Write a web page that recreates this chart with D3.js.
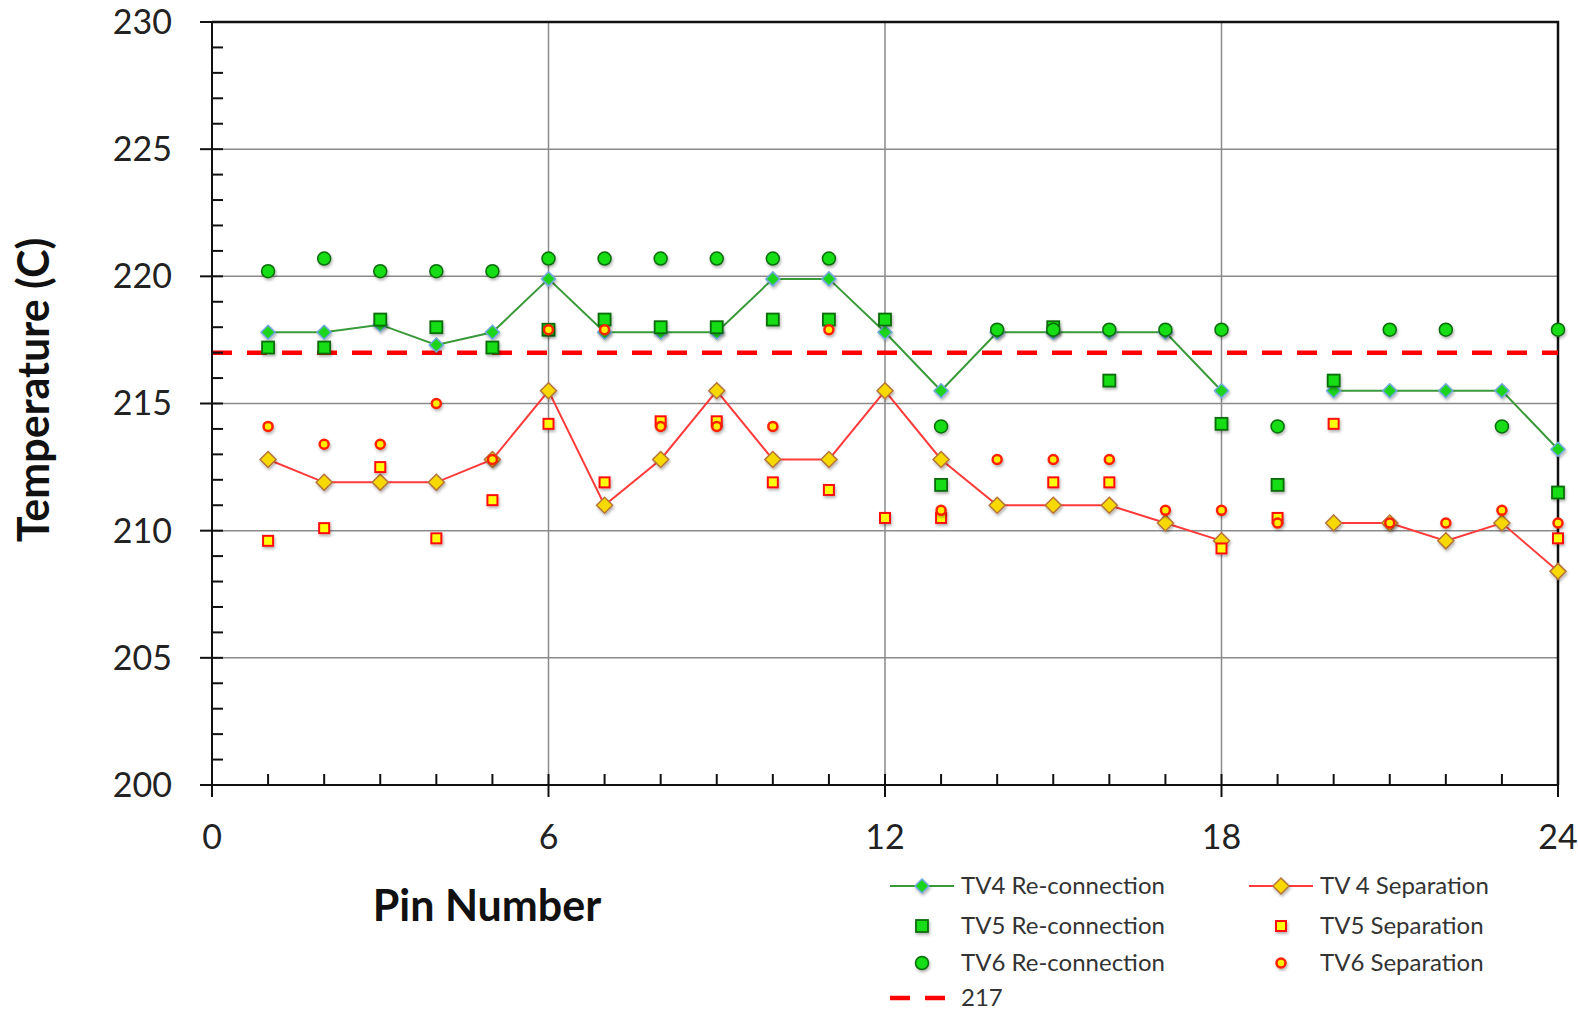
<!DOCTYPE html>
<html>
<head>
<meta charset="utf-8">
<script src="https://cdn.jsdelivr.net/npm/d3@7"></script>
<style>
  body { margin: 0; background: #fff; }
  svg { display: block; font-family: Lato, "Open Sans", sans-serif; }
  .grid { stroke: #8a8a8a; stroke-width: 1.5; }
  .axisline { stroke: #111; stroke-width: 2; }
  .ticklabel { font-size: 34px; fill: #222; }
  .title { font-size: 43px; font-weight: bold; fill: #111; }
  .legtext { font-size: 24px; fill: #333; }
</style>
</head>
<body>
<div id="chart"></div>
<script>
// pin numbers on the x axis
const pins = [1,2,3,4,5,6,7,8,9,10,11,12,13,14,15,16,17,18,19,20,21,22,23,24];

// temperatures, null = no point
const tv4Re  = [217.8,217.8,218.1,217.3,217.8,219.9,217.8,217.8,217.8,219.9,219.9,217.8,215.5,217.8,217.8,217.8,217.8,215.5,null,215.5,215.5,215.5,215.5,213.2];
const tv5Re  = [217.2,217.2,218.3,218.0,217.2,217.9,218.3,218.0,218.0,218.3,218.3,218.3,211.8,null,218.0,215.9,null,214.2,211.8,215.9,null,null,null,211.5];
const tv6Re  = [220.2,220.7,220.2,220.2,220.2,220.7,220.7,220.7,220.7,220.7,220.7,null,214.1,217.9,217.9,217.9,217.9,217.9,214.1,null,217.9,217.9,214.1,217.9];
const tv4Sep = [212.8,211.9,211.9,211.9,212.8,215.5,211.0,212.8,215.5,212.8,212.8,215.5,212.8,211.0,211.0,211.0,210.3,209.6,null,210.3,210.3,209.6,210.3,208.4];
const tv5Sep = [209.6,210.1,212.5,209.7,211.2,214.2,211.9,214.3,214.3,211.9,211.6,210.5,210.5,null,211.9,211.9,null,209.3,210.5,214.2,null,null,null,209.7];
const tv6Sep = [214.1,213.4,213.4,215.0,212.8,217.9,217.9,214.1,214.1,214.1,217.9,null,210.8,212.8,212.8,212.8,210.8,210.8,210.3,null,210.3,210.3,210.8,210.3];
const threshold = 217;

const yTicks = [200,205,210,215,220,225,230];
const xTicks = [0,6,12,18,24];

//////////////////////////////////////////////////////////////

const width = 1578, height = 1012;
const plotL = 212, plotR = 1558, plotT = 22, plotB = 785;

var svg = d3.select("#chart").append("svg")
    .attr("width", width)
    .attr("height", height);

var defs = svg.append("defs");
var shadow = defs.append("filter").attr("id", "shadow")
    .attr("x", "-50%").attr("y", "-50%").attr("width", "200%").attr("height", "200%");
shadow.append("feDropShadow")
    .attr("dx", 1).attr("dy", 2).attr("stdDeviation", 1.5)
    .attr("flood-color", "#000").attr("flood-opacity", 0.3);

var xScale = d3.scaleLinear([0, 24], [plotL, plotR]);
var yScale = d3.scaleLinear([200, 230], [plotB, plotT]);

// gridlines
svg.selectAll(".hgrid").data(yTicks.slice(1, -1)).enter()
    .append("line").attr("class", "grid")
    .attr("x1", plotL).attr("x2", plotR)
    .attr("y1", d => yScale(d)).attr("y2", d => yScale(d));
svg.selectAll(".vgrid").data(xTicks.slice(1, -1)).enter()
    .append("line").attr("class", "grid")
    .attr("x1", d => xScale(d)).attr("x2", d => xScale(d))
    .attr("y1", plotT).attr("y2", plotB);

// plot border top / right
svg.append("path")
    .attr("d", `M${plotL},${plotT}H${plotR}V${plotB}`)
    .attr("fill", "none").attr("stroke", "#111").attr("stroke-width", 2.5);

// 217 reference line
svg.append("line")
    .attr("x1", xScale(0)).attr("x2", xScale(24))
    .attr("y1", yScale(threshold)).attr("y2", yScale(threshold))
    .attr("stroke", "#ff0000").attr("stroke-width", 4.5)
    .attr("stroke-dasharray", "20 15");

// y axis with minor ticks
svg.append("line").attr("class", "axisline")
    .attr("x1", plotL).attr("x2", plotL).attr("y1", plotT).attr("y2", plotB);
for (let v = 200; v <= 230; v++) {
    var major = v % 5 === 0;
    svg.append("line").attr("class", "axisline")
        .attr("x1", major ? plotL - 12 : plotL)
        .attr("x2", plotL + 11)
        .attr("y1", yScale(v)).attr("y2", yScale(v));
}
svg.selectAll(".ylab").data(yTicks).enter()
    .append("text").attr("class", "ticklabel")
    .attr("x", plotL - 40).attr("y", d => yScale(d))
    .attr("dy", "0.35em").attr("text-anchor", "end")
    .text(d => d);

// x axis with minor ticks
svg.append("line").attr("class", "axisline")
    .attr("x1", plotL).attr("x2", plotR).attr("y1", plotB).attr("y2", plotB);
for (let p = 0; p <= 24; p++) {
    var majorX = p % 6 === 0;
    svg.append("line").attr("class", "axisline")
        .attr("x1", xScale(p)).attr("x2", xScale(p))
        .attr("y1", plotB - 11)
        .attr("y2", majorX ? plotB + 12 : plotB);
}
svg.selectAll(".xlab").data(xTicks).enter()
    .append("text").attr("class", "ticklabel")
    .attr("x", d => xScale(d)).attr("y", 849)
    .attr("text-anchor", "middle")
    .text(d => d);

// axis titles
svg.append("text").attr("class", "title")
    .attr("transform", "translate(49,390) rotate(-90)")
    .attr("text-anchor", "middle")
    .text("Temperature (C)");
svg.append("text").attr("class", "title")
    .attr("x", 487).attr("y", 921)
    .attr("text-anchor", "middle")
    .text("Pin Number");

// marker drawing
var diamond = s => `M0,${-s}L${s},0L0,${s}L${-s},0Z`;
var styles = {
    tv4Re:  {shape: "diamond", size: 7, fill: "#1fd41f", stroke: "#6fa8dc", sw: 1.5},
    tv5Re:  {shape: "square", size: 12, fill: "#12dd12", stroke: "#0b6b0b", sw: 1.8},
    tv6Re:  {shape: "circle", size: 6.5, fill: "#12dd12", stroke: "#0b6b0b", sw: 1.5},
    tv4Sep: {shape: "diamond", size: 8, fill: "#f7d900", stroke: "#b5743a", sw: 1.5},
    tv5Sep: {shape: "square", size: 10, fill: "#ffff10", stroke: "#ff1010", sw: 2},
    tv6Sep: {shape: "circle", size: 4.5, fill: "#ffee00", stroke: "#ff2000", sw: 2.5}
};

function drawMarker(g, st, x, y) {
    if (st.shape === "diamond") {
        g.append("path").attr("d", diamond(st.size))
            .attr("transform", `translate(${x},${y})`);
    } else if (st.shape === "square") {
        g.append("rect")
            .attr("x", x - st.size / 2).attr("y", y - st.size / 2)
            .attr("width", st.size).attr("height", st.size);
    } else {
        g.append("circle").attr("cx", x).attr("cy", y).attr("r", st.size);
    }
}

function drawSeries(values, st, lineColor) {
    var pts = pins.map((p, i) => ({x: p, y: values[i]}));
    if (lineColor) {
        var line = d3.line()
            .defined(d => d.y !== null)
            .x(d => xScale(d.x))
            .y(d => yScale(d.y));
        svg.append("path")
            .attr("d", line(pts))
            .attr("fill", "none")
            .attr("stroke", lineColor)
            .attr("stroke-width", 2);
    }
    var g = svg.append("g")
        .attr("fill", st.fill).attr("stroke", st.stroke)
        .attr("stroke-width", st.sw)
        .attr("filter", "url(#shadow)");
    pts.filter(d => d.y !== null).forEach(d => drawMarker(g, st, xScale(d.x), yScale(d.y)));
}

drawSeries(tv4Re, styles.tv4Re, "#3a9a3a");
drawSeries(tv5Re, styles.tv5Re, null);
drawSeries(tv6Re, styles.tv6Re, null);
drawSeries(tv4Sep, styles.tv4Sep, "#ff3b3b");
drawSeries(tv5Sep, styles.tv5Sep, null);
drawSeries(tv6Sep, styles.tv6Sep, null);

// legend
var legend = [
    {label: "TV4 Re-connection", st: styles.tv4Re, line: "#3a9a3a", col: 0, row: 0},
    {label: "TV5 Re-connection", st: styles.tv5Re, line: null, col: 0, row: 1},
    {label: "TV6 Re-connection", st: styles.tv6Re, line: null, col: 0, row: 2},
    {label: "217", st: null, line: "dash", col: 0, row: 3},
    {label: "TV 4 Separation", st: styles.tv4Sep, line: "#ff3b3b", col: 1, row: 0},
    {label: "TV5 Separation", st: styles.tv5Sep, line: null, col: 1, row: 1},
    {label: "TV6 Separation", st: styles.tv6Sep, line: null, col: 1, row: 2}
];
var legX = [922, 1281], legY = [886, 926, 963, 998];
legend.forEach(item => {
    var cx = legX[item.col], cy = legY[item.row];
    if (item.line === "dash") {
        svg.append("line")
            .attr("x1", cx - 32).attr("x2", cx + 32).attr("y1", cy).attr("y2", cy)
            .attr("stroke", "#ff0000").attr("stroke-width", 4.5)
            .attr("stroke-dasharray", "20 15");
    } else if (item.line) {
        svg.append("line")
            .attr("x1", cx - 32).attr("x2", cx + 32).attr("y1", cy).attr("y2", cy)
            .attr("stroke", item.line).attr("stroke-width", 2);
    }
    if (item.st) {
        var g = svg.append("g")
            .attr("fill", item.st.fill).attr("stroke", item.st.stroke)
            .attr("stroke-width", item.st.sw)
            .attr("filter", "url(#shadow)");
        drawMarker(g, item.st, cx, cy);
    }
    svg.append("text").attr("class", "legtext")
        .attr("x", cx + 39).attr("y", cy)
        .attr("dy", "0.35em")
        .text(item.label);
});
</script>
</body>
</html>
